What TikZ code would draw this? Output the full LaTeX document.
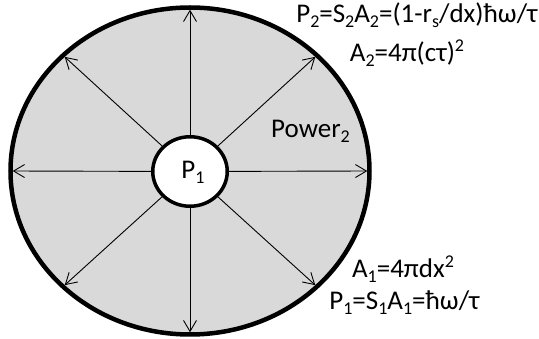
\documentclass[tikz,border=0pt]{standalone}
\usepackage{fontspec}
\setmainfont{Carlito}
\usetikzlibrary{arrows.meta,shapes.geometric}
\definecolor{bg}{HTML}{D9D9D9}
\newcommand{\lo}[1]{\raisebox{-0.15em}{\fontsize{18}{18}\selectfont #1}}
\newcommand{\hi}[1]{\raisebox{0.38em}{\fontsize{18}{18}\selectfont #1}}
\begin{document}
\begin{tikzpicture}[x=1pt,y=-1pt,
  txt/.style={font=\fontsize{27}{32}\selectfont, inner sep=0pt},
  ray/.style={-{Straight Barb[length=11pt,width=13pt]}, line width=0.9pt, shorten >=2.2pt}]
\useasboundingbox (0,0) rectangle (539,339);
\node[ellipse, draw, line width=4.5pt, fill=bg, minimum width=359pt, minimum height=327pt, outer sep=0pt, inner sep=0pt] (outer) at (190,171) {};
\node[ellipse, draw, line width=3.5pt, fill=white, minimum width=74.5pt, minimum height=69.5pt, inner sep=0pt] (p1) at (190,171.5) {};
\foreach \a in {north, south, east, west, north east, north west, south east, south west}
  \draw[ray] (p1) -- (outer.\a);
\node[txt, anchor=base] (p1txt) at (193,179) {P\lo{1}};
\node[txt, anchor=base] (eq1) at (417,23) {P\lo{2}=S\lo{2}A\lo{2}=(1-r\lo{s}/dx)ħω/τ};
\node[txt, anchor=base] (eq2) at (407,62) {A\lo{2}=4π(cτ)\hi{2}};
\node[txt, anchor=base] (pw) at (310.5,138) {Power\lo{2}};
\node[txt, anchor=base] (eq3) at (403,278) {A\lo{1}=4πdx\hi{2}};
\node[txt, anchor=base] (eq4) at (404.5,310) {P\lo{1}=S\lo{1}A\lo{1}=ħω/τ};
\end{tikzpicture}
\end{document}
